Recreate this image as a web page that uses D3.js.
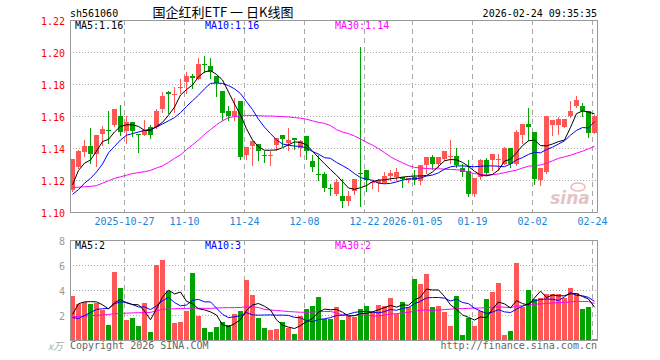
<!DOCTYPE html>
<html>
<head>
<meta charset="utf-8">
<script src="https://cdn.jsdelivr.net/npm/d3@7"></script>
<style>
  body { margin: 0; background: #fff; }
  svg { display: block; }
  text { font-family: "DejaVu Sans Mono", monospace; font-size: 10px; }
</style>
</head>
<body>
<svg id="chart" width="660" height="360"></svg>
<script>
// daily candles, 2025-10-14 .. 2026-02-24 (88 sessions)
const opens = [1.1140,1.1279,1.1379,1.1415,1.1365,1.1483,1.1515,1.1546,1.1602,1.1504,
  1.1563,1.1485,1.1483,1.1531,1.1531,1.1646,1.1748,1.1733,1.1781,1.1817,
  1.1852,1.1833,1.1927,1.1915,1.1852,1.1754,1.1633,1.1598,1.1696,1.1354,
  1.1417,1.1425,1.1356,1.1352,1.1417,1.1483,1.1427,1.1463,1.1400,1.1477,
  1.1317,1.1235,1.1240,1.1150,1.1108,1.1098,1.1067,1.1129,1.1244,1.1265,
  1.1180,1.1185,1.1185,1.1223,1.1217,1.1221,1.1196,1.1217,1.1196,1.1294,
  1.1342,1.1300,1.1331,1.1346,1.1350,1.1273,1.1258,1.1113,1.1217,1.1325,
  1.1325,1.1327,1.1300,1.1398,1.1300,1.1481,1.1550,1.1502,1.1204,1.1252,
  1.1544,1.1544,1.1530,1.1600,1.1663,1.1663,1.1633,1.1496];
const highs = [1.1333,1.1385,1.1452,1.1527,1.1483,1.1535,1.1629,1.1646,1.1667,1.1598,
  1.1563,1.1485,1.1577,1.1544,1.1646,1.1748,1.1754,1.1781,1.1831,1.1873,
  1.1865,1.1963,1.1977,1.1963,1.1852,1.1754,1.1665,1.1713,1.1696,1.1404,
  1.1446,1.1425,1.1379,1.1379,1.1463,1.1483,1.1525,1.1463,1.1452,1.1477,
  1.1358,1.1358,1.1248,1.1177,1.1206,1.1206,1.1129,1.1206,1.2033,1.1265,
  1.1200,1.1206,1.1248,1.1265,1.1273,1.1221,1.1215,1.1263,1.1294,1.1342,
  1.1356,1.1346,1.1381,1.1450,1.1398,1.1300,1.1325,1.1210,1.1329,1.1335,
  1.1363,1.1360,1.1408,1.1402,1.1513,1.1550,1.1648,1.1502,1.1277,1.1600,
  1.1575,1.1596,1.1581,1.1696,1.1725,1.1683,1.1633,1.1606];
const lows = [1.1130,1.1275,1.1352,1.1306,1.1290,1.1421,1.1431,1.1540,1.1479,1.1429,
  1.1473,1.1373,1.1483,1.1462,1.1525,1.1623,1.1619,1.1623,1.1744,1.1744,
  1.1775,1.1833,1.1873,1.1838,1.1723,1.1577,1.1577,1.1577,1.1331,1.1331,
  1.1296,1.1323,1.1310,1.1296,1.1390,1.1410,1.1390,1.1394,1.1348,1.1331,
  1.1258,1.1202,1.1129,1.1108,1.1108,1.1031,1.1042,1.1115,1.1035,1.1129,
  1.1150,1.1129,1.1181,1.1202,1.1200,1.1158,1.1190,1.1175,1.1175,1.1246,
  1.1267,1.1283,1.1325,1.1308,1.1283,1.1225,1.1100,1.1100,1.1208,1.1231,
  1.1263,1.1263,1.1300,1.1279,1.1294,1.1429,1.1450,1.1175,1.1170,1.1246,
  1.1481,1.1488,1.1530,1.1592,1.1658,1.1600,1.1471,1.1496];
const closes = [1.1333,1.1379,1.1415,1.1365,1.1483,1.1517,1.1506,1.1646,1.1504,1.1563,
  1.1504,1.1483,1.1515,1.1483,1.1629,1.1727,1.1733,1.1735,1.1783,1.1852,
  1.1838,1.1927,1.1923,1.1879,1.1806,1.1615,1.1602,1.1629,1.1348,1.1404,
  1.1446,1.1379,1.1354,1.1354,1.1463,1.1456,1.1448,1.1448,1.1442,1.1385,
  1.1279,1.1233,1.1150,1.1148,1.1185,1.1067,1.1098,1.1206,1.1242,1.1202,
  1.1185,1.1202,1.1227,1.1244,1.1248,1.1210,1.1210,1.1196,1.1294,1.1342,
  1.1300,1.1342,1.1381,1.1348,1.1294,1.1246,1.1113,1.1210,1.1325,1.1246,
  1.1360,1.1329,1.1398,1.1300,1.1502,1.1550,1.1533,1.1210,1.1277,1.1600,
  1.1575,1.1581,1.1581,1.1633,1.1700,1.1633,1.1496,1.1600];

// price moving averages as drawn
const ma5 = [1.1170,1.1260,1.1305,1.1325,1.1380,1.1440,1.1454,1.1500,1.1535,1.1545,
  1.1545,1.1535,1.1510,1.1510,1.1535,1.1560,1.1605,1.1655,1.1731,1.1765,
  1.1794,1.1845,1.1875,1.1884,1.1860,1.1825,1.1750,1.1675,1.1606,1.1520,
  1.1450,1.1408,1.1386,1.1386,1.1388,1.1402,1.1420,1.1438,1.1435,1.1420,
  1.1380,1.1340,1.1302,1.1265,1.1230,1.1190,1.1150,1.1142,1.1152,1.1165,
  1.1190,1.1200,1.1200,1.1208,1.1212,1.1218,1.1222,1.1225,1.1225,1.1228,
  1.1250,1.1285,1.1320,1.1328,1.1326,1.1310,1.1285,1.1255,1.1231,1.1226,
  1.1235,1.1262,1.1318,1.1330,1.1370,1.1415,1.1445,1.1450,1.1415,1.1413,
  1.1425,1.1440,1.1450,1.1529,1.1615,1.1631,1.1625,1.1613];
const ma10 = [1.1110,1.1140,1.1180,1.1210,1.1250,1.1300,1.1370,1.1410,1.1450,1.1480,
  1.1490,1.1500,1.1510,1.1517,1.1530,1.1550,1.1570,1.1590,1.1620,1.1660,
  1.1695,1.1730,1.1770,1.1804,1.1806,1.1804,1.1790,1.1770,1.1740,1.1690,
  1.1640,1.1580,1.1530,1.1490,1.1451,1.1425,1.1418,1.1412,1.1410,1.1400,
  1.1378,1.1362,1.1340,1.1335,1.1310,1.1290,1.1268,1.1240,1.1215,1.1205,
  1.1198,1.1180,1.1176,1.1179,1.1188,1.1200,1.1206,1.1208,1.1212,1.1225,
  1.1231,1.1245,1.1268,1.1282,1.1288,1.1288,1.1285,1.1283,1.1286,1.1288,
  1.1288,1.1286,1.1283,1.1300,1.1325,1.1340,1.1360,1.1373,1.1370,1.1390,
  1.1405,1.1425,1.1445,1.1480,1.1510,1.1528,1.1525,1.1565];
const ma30 = [1.1153,1.1155,1.1158,1.1160,1.1165,1.1180,1.1195,1.1210,1.1220,1.1230,
  1.1240,1.1246,1.1252,1.1260,1.1275,1.1288,1.1310,1.1335,1.1357,1.1390,
  1.1420,1.1450,1.1485,1.1515,1.1545,1.1570,1.1590,1.1596,1.1600,1.1604,
  1.1604,1.1602,1.1600,1.1600,1.1598,1.1596,1.1594,1.1590,1.1586,1.1580,
  1.1570,1.1560,1.1554,1.1540,1.1515,1.1500,1.1490,1.1475,1.1456,1.1436,
  1.1418,1.1396,1.1371,1.1345,1.1325,1.1308,1.1290,1.1279,1.1275,1.1272,
  1.1270,1.1270,1.1268,1.1266,1.1264,1.1260,1.1250,1.1240,1.1235,1.1232,
  1.1233,1.1238,1.1246,1.1254,1.1262,1.1275,1.1286,1.1290,1.1294,1.1305,
  1.1320,1.1335,1.1345,1.1355,1.1368,1.1380,1.1395,1.1410];

// volume (x万)
const volumes = [3.55,2.88,3.01,2.88,2.93,2.40,1.20,5.47,4.19,1.60,
  1.73,1.12,2.98,0.67,6.00,6.40,3.95,1.39,1.47,2.32,
  5.39,1.95,0.93,0.67,1.07,1.47,1.20,2.08,2.32,4.80,
  3.60,1.79,0.99,0.80,0.88,1.47,0.99,0.48,1.95,2.48,
  2.75,3.47,1.70,1.68,2.67,1.60,1.95,1.87,2.48,2.75,
  2.21,2.80,2.72,3.39,2.05,3.07,2.67,4.88,4.48,5.28,
  2.67,2.75,2.21,1.15,3.52,0.40,1.79,1.15,2.32,3.28,
  3.87,4.59,0.40,0.72,6.19,2.67,4.00,3.28,3.39,3.68,
  3.65,3.65,3.33,4.19,3.73,2.48,2.67,0.08];
const volMa5 = [2.05,2.90,3.05,3.07,3.05,2.82,2.48,2.98,3.24,2.97,
  2.84,2.82,2.32,1.62,2.50,3.43,4.00,3.68,3.84,3.10,
  2.90,2.50,2.41,2.25,2.00,1.22,1.07,1.30,1.63,2.37,
  2.80,2.92,2.70,2.40,1.61,1.19,1.03,0.92,1.15,1.47,
  1.73,2.23,2.47,2.42,2.45,2.22,1.92,1.95,2.11,2.13,
  2.25,2.42,2.59,2.77,2.63,2.81,2.78,3.21,3.43,4.08,
  4.00,4.01,3.48,2.81,2.46,2.01,1.81,1.60,1.84,1.79,
  2.48,3.04,2.89,2.57,3.15,2.91,2.80,3.37,3.91,3.40,
  3.60,3.53,3.54,3.70,3.71,3.48,3.28,2.63];
const volMa10 = [1.80,1.72,1.95,2.20,2.45,2.50,2.52,2.90,3.05,3.01,
  2.83,2.65,2.65,2.43,2.74,3.14,3.41,3.00,2.73,2.80,
  3.17,3.25,3.05,3.05,2.55,2.06,1.79,1.86,1.94,2.19,
  2.01,1.99,2.00,2.01,1.99,1.99,1.97,1.81,1.78,1.54,
  1.46,1.63,1.70,1.79,1.96,1.98,2.07,2.21,2.27,2.29,
  2.24,2.17,2.27,2.44,2.38,2.53,2.60,2.90,3.10,3.36,
  3.40,3.40,3.35,3.12,3.27,3.00,2.91,2.54,2.32,2.12,
  2.24,2.43,2.25,2.20,2.47,2.70,2.92,3.13,3.24,3.28,
  3.26,3.16,3.46,3.80,3.56,3.54,3.41,3.09];
const volMa30 = [1.87,1.88,1.92,1.95,1.97,2.00,2.05,2.10,2.13,2.15,
  2.17,2.18,2.20,2.21,2.33,2.45,2.48,2.50,2.52,2.53,
  2.55,2.54,2.53,2.53,2.56,2.58,2.59,2.59,2.60,2.66,
  2.66,2.60,2.45,2.40,2.36,2.32,2.28,2.25,2.22,2.22,
  2.24,2.26,2.28,2.28,2.17,2.01,1.94,1.96,1.99,2.01,
  1.92,1.93,1.99,2.08,2.11,2.17,2.21,2.31,2.38,2.40,
  2.37,2.40,2.44,2.46,2.53,2.51,2.53,2.55,2.56,2.59,
  2.63,2.66,2.62,2.59,2.71,2.74,2.80,2.86,2.89,2.92,
  2.97,2.99,3.01,3.04,3.10,3.08,3.08,2.92];

const tickIdx = [9, 19, 29, 39, 49, 57, 67, 77, 87];
const tickLabels = ['2025-10-27','11-10','11-24','12-08','12-22','2026-01-05','01-19','02-02','02-24'];
const priceTicks = [1.10, 1.12, 1.14, 1.16, 1.18, 1.20, 1.22];
const volTicks = [2, 4, 6, 8];

const RED = '#ff5656';
const GREEN = '#00a300';
const GRID = '#a8a8a8';

const n = closes.length;
const left = 70, right = 597;
const x = d3.scaleLinear().domain([0, n]).range([left, left + 6 * n]);
const slot = x(1) - x(0);
const bodyW = slot - 1;
const cx = i => x(i) + Math.floor(bodyW / 2) + 0.5;

const yP = d3.scaleLinear().domain([1.10, 1.22]).range([212, 20]);
const yV = d3.scaleLinear().domain([0, 8]).range([340, 240]);

const svg = d3.select('#chart');

svg.append('defs').append('clipPath').attr('id', 'clipP')
  .append('rect').attr('x', left).attr('y', 20).attr('width', right - left).attr('height', 192);
svg.select('defs').append('clipPath').attr('id', 'clipV')
  .append('rect').attr('x', left).attr('y', 240).attr('width', right - left).attr('height', 100);

// header
svg.append('text').attr('x', 70).attr('y', 17).text('sh561060');
svg.append('text').attr('x', 223).attr('y', 17).attr('text-anchor', 'middle')
  .style('font-family', '"Noto Sans CJK SC", sans-serif').style('font-size', '13px')
  .text('国企红利ETF 一 日K线图');
svg.append('text').attr('x', 597).attr('y', 17).attr('text-anchor', 'end').text('2026-02-24 09:35:35');

// grids
function grid(yScale, ticks, y0, y1) {
  const g = svg.append('g');
  g.selectAll('.hg').data(ticks).enter().append('line')
    .attr('x1', left).attr('x2', right)
    .attr('y1', d => Math.round(yScale(d)) + 0.5).attr('y2', d => Math.round(yScale(d)) + 0.5)
    .attr('stroke', GRID).attr('stroke-dasharray', '1,2');
  g.selectAll('.vg').data(tickIdx).enter().append('line')
    .attr('x1', d => x(d) + 0.5).attr('x2', d => x(d) + 0.5)
    .attr('y1', y0).attr('y2', y1)
    .attr('stroke', GRID).attr('stroke-dasharray', '5,4');
}
grid(yP, priceTicks.slice(1, -1), 20, 212);
grid(yV, volTicks.slice(0, -1), 240, 340);

// candles
const cg = svg.append('g').attr('clip-path', 'url(#clipP)');
const candles = d3.range(n).map(i => ({ i, o: opens[i], h: highs[i], l: lows[i], c: closes[i] }));
cg.selectAll('.wick').data(candles).enter().append('line')
  .attr('x1', d => cx(d.i)).attr('x2', d => cx(d.i))
  .attr('y1', d => Math.round(yP(d.h))).attr('y2', d => Math.round(yP(d.l)) + 1)
  .attr('stroke', d => d.c >= d.o ? RED : GREEN);
cg.selectAll('.body').data(candles).enter().append('rect')
  .attr('x', d => x(d.i))
  .attr('y', d => Math.round(yP(Math.max(d.o, d.c))))
  .attr('width', bodyW)
  .attr('height', d => Math.max(1, Math.round(Math.abs(yP(d.o) - yP(d.c)))))
  .attr('fill', d => d.c >= d.o ? RED : GREEN);

// price MAs
const lineP = d3.line().x((d, i) => cx(i)).y(d => yP(d));
[[ma30, '#ff00ff'], [ma10, '#0000ff'], [ma5, '#000000']].forEach(([arr, col]) => {
  cg.append('path').attr('d', lineP(arr)).attr('fill', 'none').attr('stroke', col).attr('stroke-width', 1);
});

// volume bars
const vg = svg.append('g').attr('clip-path', 'url(#clipV)');
vg.selectAll('.vbar').data(volumes).enter().append('rect')
  .attr('x', (d, i) => x(i))
  .attr('y', d => Math.round(yV(d)))
  .attr('width', bodyW)
  .attr('height', d => 340 - Math.round(yV(d)))
  .attr('fill', (d, i) => closes[i] >= opens[i] ? RED : GREEN);

const lineV = d3.line().x((d, i) => cx(i)).y(d => yV(d));
[[volMa30, '#ff00ff'], [volMa10, '#0000ff'], [volMa5, '#000000']].forEach(([arr, col]) => {
  vg.append('path').attr('d', lineV(arr)).attr('fill', 'none').attr('stroke', col).attr('stroke-width', 1);
});

// frames
[[20, 212], [240, 340]].forEach(([t, b]) => {
  svg.append('rect').attr('x', left + 0.5).attr('y', t + 0.5)
    .attr('width', right - left).attr('height', b - t)
    .attr('fill', 'none').attr('stroke', '#999');
});

// axes
const yAxisP = d3.axisLeft(yP).tickValues(priceTicks).tickSize(0).tickPadding(5).tickFormat(d3.format('.2f'));
svg.append('g').attr('transform', `translate(${left},1)`).call(yAxisP)
  .call(g => g.select('.domain').remove())
  .call(g => g.selectAll('text').attr('fill', '#ff0000').style('font-family', '"DejaVu Sans Mono", monospace').style('font-size', '10px'));

const yAxisV = d3.axisLeft(yV).tickValues(volTicks).tickSize(0).tickPadding(5).tickFormat(d3.format('d'));
svg.append('g').attr('transform', `translate(${left},1)`).call(yAxisV)
  .call(g => g.select('.domain').remove())
  .call(g => g.selectAll('text').attr('fill', '#9a9a9a').style('font-family', '"DejaVu Sans Mono", monospace').style('font-size', '10px'));

const xAxis = d3.axisBottom(x).tickValues(tickIdx).tickSize(0).tickPadding(6).tickFormat((d, i) => tickLabels[i]);
svg.append('g').attr('transform', 'translate(0,212)').call(xAxis)
  .call(g => g.select('.domain').remove())
  .call(g => g.selectAll('text').attr('fill', '#1a84d8').style('font-family', '"DejaVu Sans Mono", monospace').style('font-size', '10px'));

// MA legends
const fmt2 = d3.format('.2f');
const legendP = [['MA5:' + fmt2(ma5[n - 1]), '#000', 75], ['MA10:' + fmt2(ma10[n - 1]), '#0000ff', 205], ['MA30:' + fmt2(ma30[n - 1]), '#ff00ff', 335]];
legendP.forEach(([t, c, lx]) => svg.append('text').attr('x', lx).attr('y', 29).attr('fill', c).text(t));
const legendV = [['MA5:' + Math.floor(volMa5[n - 1]), '#000', 75], ['MA10:' + Math.floor(volMa10[n - 1]), '#0000ff', 205], ['MA30:' + Math.floor(volMa30[n - 1]), '#ff00ff', 335]];
legendV.forEach(([t, c, lx]) => svg.append('text').attr('x', lx).attr('y', 249).attr('fill', c).text(t));

// watermark
svg.append('text').attr('x', 570).attr('y', 204).attr('text-anchor', 'middle')
  .style('font-family', '"DejaVu Sans", sans-serif').style('font-size', '17px')
  .style('font-style', 'italic').style('font-weight', 'bold')
  .attr('fill', '#e2c4c4').text('sina');
svg.append('ellipse').attr('cx', 578).attr('cy', 187).attr('rx', 7).attr('ry', 4)
  .attr('fill', 'none').attr('stroke', '#efb8b8').attr('stroke-width', 1.5);

// footer
svg.append('text').attr('x', 48).attr('y', 350).attr('fill', '#aaa')
  .style('font-family', '"Noto Sans CJK SC", sans-serif').style('font-style', 'italic').text('x万');
svg.append('text').attr('x', 70).attr('y', 349).attr('fill', '#666').text('Copyright 2026 SINA.COM');
svg.append('text').attr('x', 597).attr('y', 349).attr('text-anchor', 'end').attr('fill', '#666').text('http://finance.sina.com.cn');
</script>
</body>
</html>
